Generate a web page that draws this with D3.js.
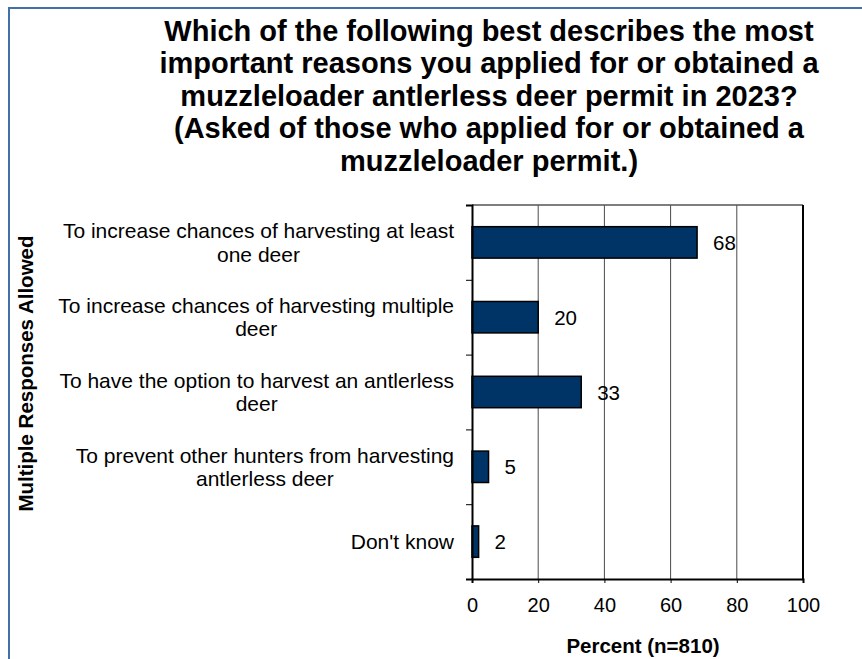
<!DOCTYPE html>
<html>
<head>
<meta charset="utf-8">
<script src="https://cdn.jsdelivr.net/npm/d3@7"></script>
<style>
  html, body { margin: 0; padding: 0; background: #fff; }
  svg { display: block; font-family: "Liberation Sans", Arial, sans-serif; }
</style>
</head>
<body>
<svg id="chart" width="862" height="659"></svg>
<script>
// Survey responses: reasons for applying for a muzzleloader antlerless permit
const titleLines = [
  "Which of the following best describes the most",
  "important reasons you applied for or obtained a",
  "muzzleloader antlerless deer permit in 2023?",
  "(Asked of those who applied for or obtained a",
  "muzzleloader permit.)"
];
const categories = [
  ["To increase chances of harvesting at least", "one deer"],
  ["To increase chances of harvesting multiple", "deer"],
  ["To have the option to harvest an antlerless", "deer"],
  ["To prevent other hunters from harvesting", "antlerless deer"],
  ["Don't know"]
];
const values = [68, 20, 33, 5, 2];
const xTicks = [0, 20, 40, 60, 80, 100];
const xTitle = "Percent (n=810)";
const yTitle = "Multiple Responses Allowed";

const svg = d3.select("#chart");
const W = 862, H = 659;
const plot = { left: 472, right: 803, top: 205, bottom: 579 };

// outer frame
svg.append("rect")
  .attr("x", 9).attr("y", 8).attr("width", 880).attr("height", 680)
  .attr("fill", "none").attr("stroke", "#4470a8").attr("stroke-width", 2);

// title
const title = svg.append("text")
  .attr("text-anchor", "middle")
  .attr("font-size", 29).attr("font-weight", "bold").attr("fill", "#000");
titleLines.forEach((t, i) => {
  title.append("tspan").attr("x", 489).attr("y", 40.5 + i * 32.5).text(t);
});

const x = d3.scaleLinear().domain([0, 100]).range([plot.left, plot.right]);
const keys = categories.map((c, i) => i);
const y = d3.scaleBand().domain(keys).range([plot.top, plot.bottom]).padding(0);

// vertical gridlines
svg.append("g").selectAll("line")
  .data(xTicks.filter(t => t > 0 && t < 100))
  .join("line")
  .attr("x1", d => x(d)).attr("x2", d => x(d))
  .attr("y1", plot.top).attr("y2", plot.bottom)
  .attr("stroke", "#4a4a4a").attr("stroke-width", 1);

// plot frame (top and right)
svg.append("line")
  .attr("x1", plot.left).attr("x2", plot.right)
  .attr("y1", plot.top).attr("y2", plot.top)
  .attr("stroke", "#555").attr("stroke-width", 1.5);
svg.append("line")
  .attr("x1", plot.right).attr("x2", plot.right)
  .attr("y1", plot.top).attr("y2", plot.bottom)
  .attr("stroke", "#000").attr("stroke-width", 2);

// bars
const barH = y.bandwidth() * 0.42;
svg.append("g").selectAll("rect")
  .data(values)
  .join("rect")
  .attr("x", x(0))
  .attr("y", (d, i) => y(i) + (y.bandwidth() - barH) / 2)
  .attr("width", d => x(d) - x(0))
  .attr("height", barH)
  .attr("fill", "#003366")
  .attr("stroke", "#000").attr("stroke-width", 1.5);

// value labels
svg.append("g").selectAll("text")
  .data(values)
  .join("text")
  .attr("x", d => x(d) + 16)
  .attr("y", (d, i) => y(i) + y.bandwidth() / 2 + 7.5)
  .attr("font-size", 20.5).attr("fill", "#000")
  .text(d => d);

// x axis
const xAxis = d3.axisBottom(x).tickValues(xTicks).tickSize(4).tickPadding(12);
const gx = svg.append("g").attr("transform", `translate(0,${plot.bottom})`).call(xAxis);
gx.select(".domain").attr("stroke", "#000").attr("stroke-width", 2);
gx.selectAll(".tick line").attr("stroke", "#000");
gx.selectAll(".tick text")
  .attr("font-size", 20).attr("fill", "#000")
  .attr("font-family", "Liberation Sans, Arial, sans-serif")
  .attr("dy", null).attr("y", 33);

// y axis: ticks sit on category boundaries
const yBound = d3.scaleLinear().domain([0, categories.length]).range([plot.top, plot.bottom]);
const yAxis = d3.axisLeft(yBound).tickValues(d3.range(categories.length + 1)).tickSize(6).tickFormat("");
const gy = svg.append("g").attr("transform", `translate(${plot.left},0)`).call(yAxis);
gy.select(".domain").attr("stroke", "#000").attr("stroke-width", 2);
gy.selectAll(".tick line").attr("stroke", "#000");

// category labels, each block centred and right-aligned at the axis gap
const labelRight = 454;
const lineGap = 23.5;
categories.forEach((lines, i) => {
  const t = svg.append("text")
    .attr("font-size", 21).attr("fill", "#000").attr("text-anchor", "middle");
  const tsp = lines.map(l => t.append("tspan").text(l));
  const maxW = d3.max(tsp, s => s.node().getComputedTextLength());
  const cx = labelRight - maxW / 2;
  const cy = y(i) + y.bandwidth() / 2;
  const firstBase = cy + 7.5 - (lines.length - 1) * lineGap / 2;
  tsp.forEach((s, j) => s.attr("x", cx).attr("y", firstBase + j * lineGap));
});

// axis titles
svg.append("text")
  .attr("x", 643).attr("y", 652.7)
  .attr("text-anchor", "middle")
  .attr("font-size", 20.5).attr("font-weight", "bold").attr("fill", "#000")
  .text(xTitle);

svg.append("text")
  .attr("transform", "translate(33.3,373.5) rotate(-90)")
  .attr("text-anchor", "middle")
  .attr("font-size", 20.5).attr("font-weight", "bold").attr("fill", "#000")
  .text(yTitle);
</script>
</body>
</html>
